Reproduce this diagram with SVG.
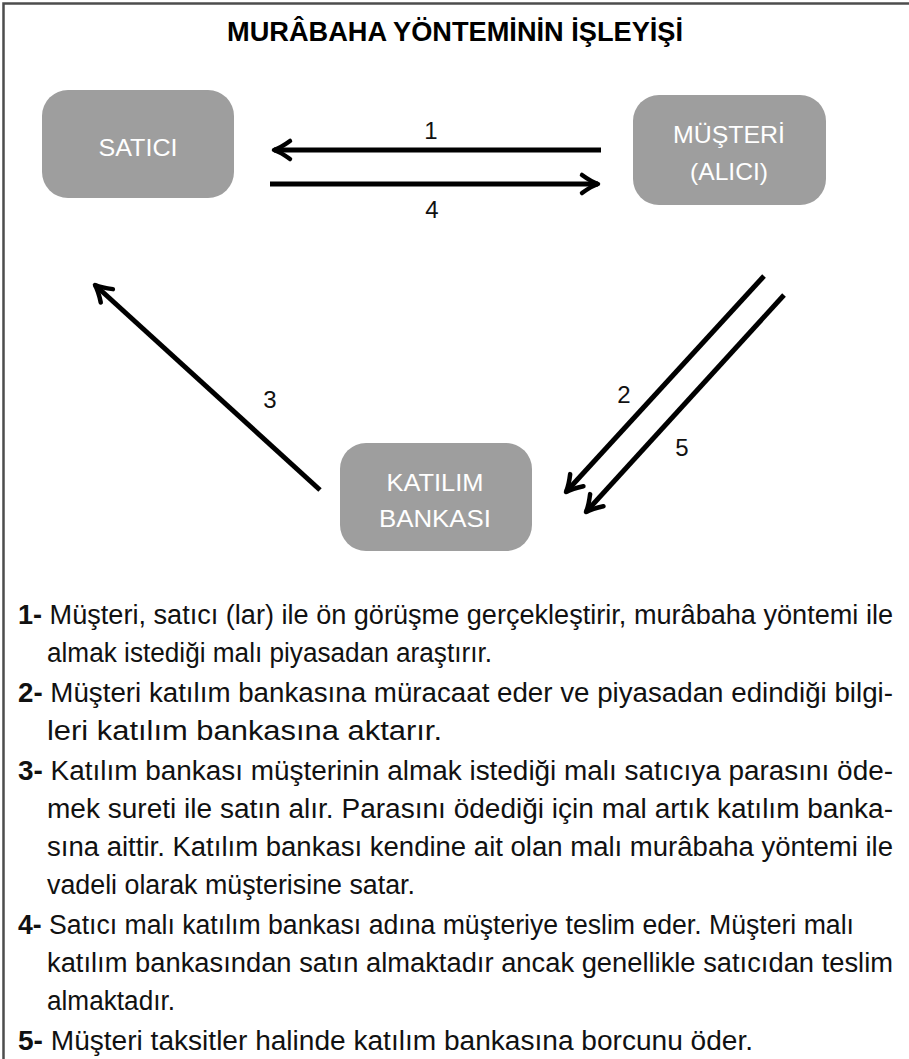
<svg xmlns="http://www.w3.org/2000/svg" width="909" height="1059" viewBox="0 0 909 1059">
<style>
.node rect{fill:#9e9e9e}
.node text{fill:#ffffff;font-family:"Liberation Sans",Arial,sans-serif;font-size:24px;text-anchor:middle}
.lbl{fill:#111;font-family:"Liberation Sans",Arial,sans-serif;font-size:24px;text-anchor:middle}
.conn line{stroke:#000;stroke-width:5;marker-end:url(#ah)}
.body{fill:#111;font-family:"Liberation Sans",Arial,sans-serif;font-size:27px}
.body tspan.n{font-weight:bold}
.title{fill:#000;font-family:"Liberation Sans",Arial,sans-serif;font-size:27px;font-weight:bold;text-anchor:middle}
</style>
<defs>
<marker id="ah" markerUnits="userSpaceOnUse" viewBox="-22 -13 26 26" markerWidth="26" markerHeight="26" refX="0" refY="0" orient="auto" overflow="visible">
<path d="M-16,-9 Q-7,-2.5 0,0 Q-7,2.5 -16,9" fill="none" stroke="#000" stroke-width="4.5" stroke-linecap="round" stroke-linejoin="round"/>
</marker>
</defs>
<rect width="909" height="1059" fill="#fff"/>
<path d="M3.5,1059 V3.5 H909" fill="none" stroke="#4d4d4d" stroke-width="2.5"/>
<text class="title" x="455" y="41" textLength="456" lengthAdjust="spacingAndGlyphs">MURÂBAHA YÖNTEMİNİN İŞLEYİŞİ</text>
<g id="satici" class="node">
<rect x="42" y="90" width="192" height="108" rx="26"/>
<text x="138" y="156" textLength="79" lengthAdjust="spacingAndGlyphs">SATICI</text>
</g>
<g id="musteri" class="node">
<rect x="633" y="95" width="193" height="110" rx="26"/>
<text x="729" y="143" textLength="112" lengthAdjust="spacingAndGlyphs">MÜŞTERİ</text>
<text x="729" y="180" textLength="78" lengthAdjust="spacingAndGlyphs">(ALICI)</text>
</g>
<g id="katilim" class="node">
<rect x="340" y="443" width="192" height="108" rx="26"/>
<text x="435" y="491" textLength="97" lengthAdjust="spacingAndGlyphs">KATILIM</text>
<text x="435" y="527" textLength="112" lengthAdjust="spacingAndGlyphs">BANKASI</text>
</g>
<g id="connectors" class="conn">
<line x1="601" y1="150" x2="274" y2="150"/>
<line x1="270" y1="184" x2="598" y2="184"/>
<line x1="320" y1="490" x2="95" y2="285"/>
<line x1="764" y1="276" x2="566" y2="492"/>
<line x1="784" y1="295" x2="586" y2="512"/>
<text class="lbl" x="431" y="139">1</text>
<text class="lbl" x="432" y="218">4</text>
<text class="lbl" x="270" y="408">3</text>
<text class="lbl" x="624" y="403">2</text>
<text class="lbl" x="682" y="456">5</text>
</g>
<g id="aciklama">
<text class="body" x="18" y="624" textLength="875" lengthAdjust="spacingAndGlyphs"><tspan class="n">1-</tspan> Müşteri, satıcı (lar) ile ön görüşme gerçekleştirir, murâbaha yöntemi ile</text>
<text class="body" x="47" y="662" textLength="445" lengthAdjust="spacingAndGlyphs">almak istediği malı piyasadan araştırır.</text>
<text class="body" x="18" y="702" textLength="875" lengthAdjust="spacingAndGlyphs"><tspan class="n">2-</tspan> Müşteri katılım bankasına müracaat eder ve piyasadan edindiği bilgi-</text>
<text class="body" x="47" y="740" textLength="395" lengthAdjust="spacingAndGlyphs">leri katılım bankasına aktarır.</text>
<text class="body" x="18" y="780" textLength="875" lengthAdjust="spacingAndGlyphs"><tspan class="n">3-</tspan> Katılım bankası müşterinin almak istediği malı satıcıya parasını öde-</text>
<text class="body" x="47" y="818" textLength="846" lengthAdjust="spacingAndGlyphs">mek sureti ile satın alır. Parasını ödediği için mal artık katılım banka-</text>
<text class="body" x="47" y="856" textLength="846" lengthAdjust="spacingAndGlyphs">sına aittir. Katılım bankası kendine ait olan malı murâbaha yöntemi ile</text>
<text class="body" x="47" y="894" textLength="368" lengthAdjust="spacingAndGlyphs">vadeli olarak müşterisine satar.</text>
<text class="body" x="18" y="934" textLength="836" lengthAdjust="spacingAndGlyphs"><tspan class="n">4-</tspan> Satıcı malı katılım bankası adına müşteriye teslim eder. Müşteri malı</text>
<text class="body" x="47" y="972" textLength="846" lengthAdjust="spacingAndGlyphs">katılım bankasından satın almaktadır ancak genellikle satıcıdan teslim</text>
<text class="body" x="47" y="1010" textLength="128" lengthAdjust="spacingAndGlyphs">almaktadır.</text>
<text class="body" x="18" y="1050" textLength="735" lengthAdjust="spacingAndGlyphs"><tspan class="n">5-</tspan> Müşteri taksitler halinde katılım bankasına borcunu öder.</text>
</g>
</svg>
